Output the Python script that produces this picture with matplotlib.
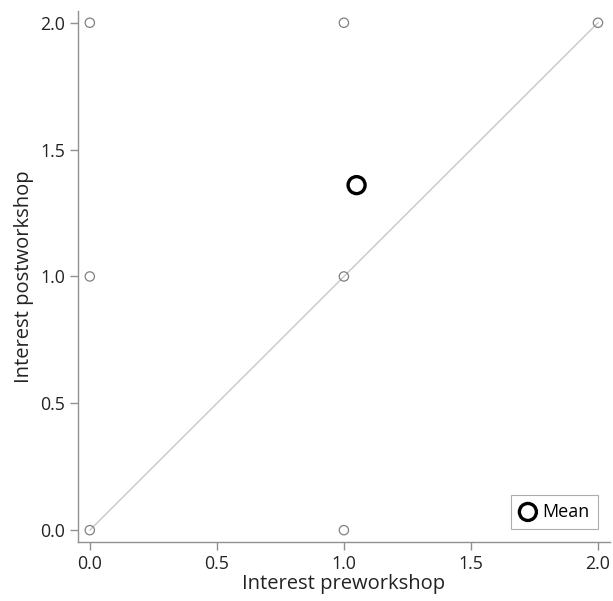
import matplotlib.pyplot as plt
import numpy as np

plt.rcParams['font.family'] = ['Open Sans', 'DejaVu Sans']

# observed (pre, post) pairs
pre = [0, 0, 0, 1, 1, 1, 2]
post = [0, 1, 2, 0, 1, 2, 2]

# mean point
mean_pre = 1.05
mean_post = 1.36

fig = plt.figure(figsize=(6.13, 6.01), dpi=100)
ax = fig.add_axes([0.127, 0.098, 0.868, 0.884])

# identity line
ax.plot([0, 2], [0, 2], color='#c8c8c8', linewidth=1, zorder=1)

ax.scatter(pre, post, s=45, facecolors='none', edgecolors='#808080',
           linewidths=0.9, zorder=2)
ax.scatter([mean_pre], [mean_post], s=150, facecolors='none',
           edgecolors='black', linewidths=2.4, zorder=3, label='Mean')

ax.set_xlim(-0.047, 2.047)
ax.set_ylim(-0.047, 2.047)
ax.set_xticks([0, 0.5, 1.0, 1.5, 2.0])
ax.set_yticks([0, 0.5, 1.0, 1.5, 2.0])
ax.set_xticklabels(['0.0', '0.5', '1.0', '1.5', '2.0'])
ax.set_yticklabels(['0.0', '0.5', '1.0', '1.5', '2.0'])

for side in ['top', 'right']:
    ax.spines[side].set_visible(False)
for side in ['left', 'bottom']:
    ax.spines[side].set_color('#909090')
    ax.spines[side].set_linewidth(1)
ax.tick_params(colors='#909090', labelcolor='#222222', labelsize=12.8,
               length=6, width=1, pad=3)

ax.set_xlabel('Interest preworkshop', fontsize=14.5, color='#222222', labelpad=1)
ax.set_ylabel('Interest postworkshop', fontsize=14.5, color='#222222', labelpad=5)

leg = ax.legend(loc='lower right', fontsize=13, frameon=True, fancybox=False,
                handletextpad=0.3, handlelength=1.0, borderpad=0.45,
                bbox_to_anchor=(0.994, 0.008))
leg.get_frame().set_edgecolor('#999999')
leg.get_frame().set_linewidth(0.8)

fig.savefig('out.png', dpi=100)
